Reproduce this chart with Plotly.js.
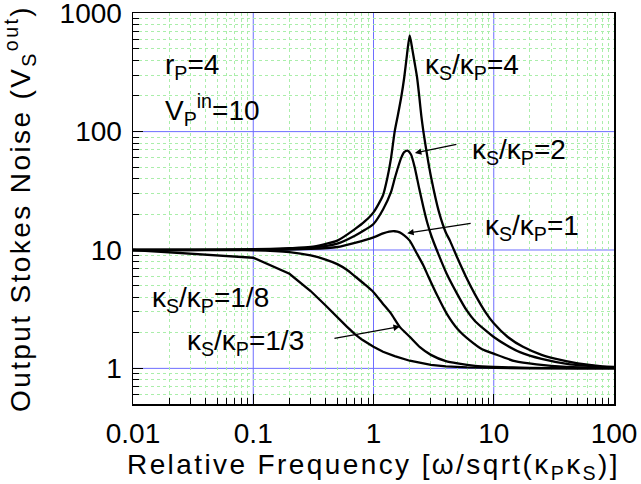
<!DOCTYPE html>
<html>
<head>
<meta charset="utf-8">
<script src="https://cdn.plot.ly/plotly-3.0.1.min.js"></script>
<style>
html,body{margin:0;padding:0;background:#fff;}
#chart{width:641px;height:484px;}
#chart .xtitle, #chart .ytitle{letter-spacing:2.4px;}
</style>
</head>
<body>
<div id="chart"></div>
<script>
// Relative frequency samples and output Stokes noise for each κS/κP ratio
const freqK4 = [0.01, 0.03, 0.1, 0.2, 0.3, 0.5, 0.7, 0.85, 1, 1.2, 1.3, 1.4, 1.5, 1.6, 1.7, 1.8, 1.9, 2.0, 2.1, 2.2, 2.3, 2.4, 2.5, 2.6, 2.8, 3.0, 3.5, 4.0, 4.32, 5, 5.94, 7, 8.5, 10, 13, 17.5, 25, 33, 50, 80, 100];
const noiseK4 = [10, 10, 10.15, 10.35, 10.6, 12.0, 15.0, 17.5, 20.8, 29, 40, 60, 100, 140, 195, 285, 450, 650, 500, 380, 290, 200, 135, 100, 62, 42, 21, 14, 12, 8.5, 5.8, 4.2, 3.0, 2.4, 1.85, 1.52, 1.3, 1.2, 1.1, 1.04, 1.03];

const freqK2 = [0.01, 0.1, 0.2, 0.3, 0.5, 0.7, 0.85, 1, 1.2, 1.4, 1.5, 1.6, 1.7, 1.8, 1.92, 2.05, 2.2, 2.4, 2.6, 2.8, 3.04, 3.5, 4.06, 5, 5.94, 7, 8.5, 10, 13, 16.5, 25, 43, 70, 100];
const noiseK2 = [10, 10.05, 10.2, 10.4, 11.3, 13.2, 14.8, 16.6, 22, 31, 40, 50, 60, 67, 69, 64, 50, 33, 23, 17, 13, 9, 6.3, 4.2, 3.1, 2.5, 2.1, 1.84, 1.55, 1.37, 1.2, 1.08, 1.04, 1.02];

const freqK1 = [0.01, 0.1, 0.2, 0.3, 0.5, 0.7, 1, 1.2, 1.35, 1.5, 1.65, 1.8, 2.0, 2.3, 2.6, 2.85, 3.4, 4.06, 5, 6.32, 8, 10, 15, 22.7, 40, 100];
const noiseK1 = [10, 10.02, 10.1, 10.2, 10.6, 11.5, 12.8, 13.8, 14.3, 14.4, 14.1, 13.3, 12.0, 9.3, 7.4, 6.0, 4.1, 2.9, 2.15, 1.72, 1.45, 1.33, 1.15, 1.08, 1.03, 1.01];

const freqK13 = [0.01, 0.1, 0.2, 0.3, 0.4, 0.5, 0.6, 0.7, 0.85, 1.0, 1.2, 1.4, 1.66, 2.0, 2.43, 3, 4, 5, 7, 10, 20, 50, 100];
const noiseK13 = [10, 9.95, 9.6, 9.0, 8.3, 7.6, 6.8, 6.0, 5.1, 4.4, 3.5, 2.9, 2.23, 1.85, 1.51, 1.3, 1.15, 1.1, 1.05, 1.03, 1.01, 1.0, 1.0];

const freqK18 = [0.01, 0.1, 0.2, 0.3, 0.4, 0.5, 0.6, 0.7, 0.8, 1.0, 1.2, 1.5, 2, 3, 4, 6, 10, 20, 50, 100];
const noiseK18 = [10, 8.6, 6.3, 4.5, 3.4, 2.7, 2.25, 1.95, 1.75, 1.52, 1.38, 1.27, 1.16, 1.07, 1.04, 1.02, 1.01, 1.0, 1.0, 1.0];

const xTickVals = [0.01, 0.1, 1, 10, 100];
const xTickText = ['0.01', '0.1', '1', '10', '100'];
const yTickVals = [1, 10, 100, 1000];
const yTickText = ['1', '10', '100', '1000'];

// minor (2..9 per decade) tick positions for the log axes
function minorTicks(eLo, eHi) {
  const v = [];
  for (let e = eLo; e < eHi; e++) for (let m = 2; m <= 9; m++) v.push(m * Math.pow(10, e));
  return v;
}
const xMinor = minorTicks(-2, 2);
const yMinor = minorTicks(-1, 3);

const FONT = 'Arial, "Liberation Sans", sans-serif';
const curveStyle = {color: '#000', width: 2.3};
const GRID_BLUE = 'rgb(110,110,255)';
const X_RANGE = [-2, 2];
const Y_RANGE = [Math.log10(0.5), 3.002];

function curve(x, y, name, shape) {
  return {x: x, y: y, type: 'scatter', mode: 'lines', name: name,
          line: Object.assign({shape: shape || 'spline', smoothing: 0.6}, curveStyle),
          hoverinfo: 'skip', showlegend: false};
}
// empty trace that only carries the overlay axes used for the minor grid / minor ticks
const gridCarrier = (xa, ya) => ({x: [], y: [], xaxis: xa, yaxis: ya, type: 'scatter', mode: 'lines', showlegend: false, hoverinfo: 'skip'});

const data = [
  gridCarrier('x2', 'y2'),
  curve(freqK4, noiseK4, 'κS/κP=4'),
  curve(freqK2, noiseK2, 'κS/κP=2'),
  curve(freqK1, noiseK1, 'κS/κP=1'),
  curve(freqK13, noiseK13, 'κS/κP=1/3'),
  curve(freqK18, noiseK18, 'κS/κP=1/8', 'linear')
];

const axisCommon = {
  type: 'log',
  showline: true, linecolor: '#000', linewidth: 1.5, mirror: true,
  ticks: 'inside', ticklen: 10, tickwidth: 1.2, tickcolor: '#000',
  showgrid: false,
  zeroline: false,
  tickmode: 'array',
  ticklabelstandoff: 4,
  ticklabeloverflow: 'allow',
  tickfont: {family: FONT, size: 28, color: '#000'}
};
const minorAxis = {
  type: 'log', tickmode: 'array', showticklabels: false,
  showline: false, zeroline: false, showgrid: true, gridwidth: 1,
  gridcolor: 'rgb(170,238,170)', griddash: 'dot',
  ticks: 'inside', ticklen: 6, tickwidth: 1, tickcolor: '#000'
};

// blue decade grid lines at the interior decades of the tick arrays (shape coords are data values)
const decadeLines = [].concat(
  xTickVals.slice(1, -1).map(v => ({type: 'line', xref: 'x', yref: 'paper', x0: v, x1: v, y0: 0, y1: 1,
    line: {color: GRID_BLUE, width: 1}, layer: 'between'})),
  yTickVals.slice(0, -1).map(v => ({type: 'line', xref: 'paper', yref: 'y', x0: 0, x1: 1, y0: v, y1: v,
    line: {color: GRID_BLUE, width: 1}, layer: 'between'}))
);

const ann = (text, x, y) => ({text: text, x: x, y: y, xref: 'paper', yref: 'paper',
  xanchor: 'left', yanchor: 'middle', showarrow: false,
  font: {family: FONT, size: 28, color: '#000'}});
const arrow = (x, y, ax, ay) => ({text: '', x: x, y: y, xref: 'paper', yref: 'paper',
  ax: ax, ay: ay, showarrow: true, arrowhead: 2, arrowsize: 1, arrowwidth: 1.3, arrowcolor: '#000'});

const layout = {
  width: 641, height: 484,
  margin: {l: 133, r: 27, t: 13, b: 80},
  paper_bgcolor: '#fff', plot_bgcolor: '#fff',
  font: {family: FONT, color: '#000'},
  xaxis: Object.assign({}, axisCommon, {
    range: X_RANGE, tickvals: xTickVals, ticktext: xTickText,
    title: {text: 'Relative Frequency [ω/sqrt(κ<sub>P</sub>κ<sub>S</sub>)]', font: {family: FONT, size: 28, color: '#000'}, standoff: 12}
  }),
  yaxis: Object.assign({}, axisCommon, {
    range: Y_RANGE, tickvals: yTickVals, ticktext: yTickText,
    title: {text: 'Output Stokes Noise (V<sub>S</sub><sup>out</sup>)', font: {family: FONT, size: 28, color: '#000'}, standoff: 26}
  }),
  xaxis2: Object.assign({}, minorAxis, {range: X_RANGE, tickvals: xMinor, overlaying: 'x', anchor: 'y2'}),
  yaxis2: Object.assign({}, minorAxis, {range: Y_RANGE, tickvals: yMinor, overlaying: 'y', anchor: 'x2'}),
  shapes: decadeLines,
  annotations: [
    ann('r<sub>P</sub>=4', 0.062, 0.862),
    ann('V<sub>P</sub><sup>in</sup>=10', 0.062, 0.752),
    ann('κ<sub>S</sub>/κ<sub>P</sub>=4', 0.603, 0.862),
    ann('κ<sub>S</sub>/κ<sub>P</sub>=2', 0.70, 0.645),
    ann('κ<sub>S</sub>/κ<sub>P</sub>=1', 0.728, 0.452),
    ann('κ<sub>S</sub>/κ<sub>P</sub>=1/8', 0.035, 0.268),
    ann('κ<sub>S</sub>/κ<sub>P</sub>=1/3', 0.108, 0.158),
    arrow(0.586, 0.642, 43, -9),
    arrow(0.570, 0.437, 65, -10),
    arrow(0.555, 0.198, -67, 12)
  ]
};

Plotly.newPlot('chart', data, layout, {displayModeBar: false, staticPlot: true});
</script>
</body>
</html>
